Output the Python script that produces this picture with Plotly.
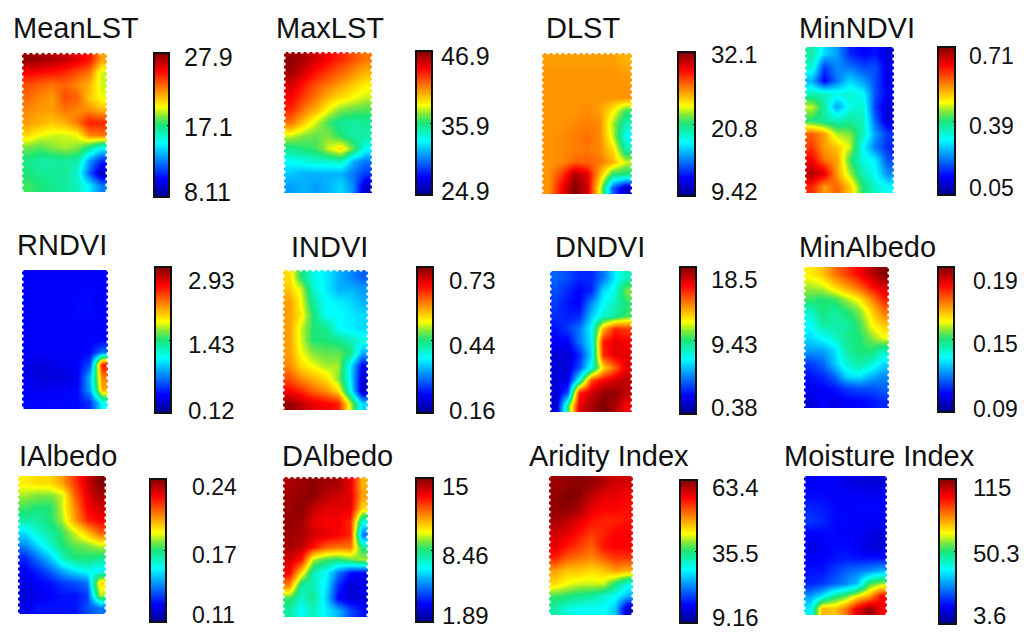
import plotly.graph_objects as go

W, H = 1024, 641

# jet positions (0-100), rows top to bottom
mean_lst = [
    [98, 97, 95, 93, 90, 86, 72], [88, 87, 86, 84, 80, 76, 60], [80, 78, 76, 78, 74, 70, 60],
    [77, 74, 72, 80, 78, 68, 62], [74, 72, 72, 76, 74, 74, 70], [72, 70, 68, 70, 76, 85, 84],
    [66, 62, 60, 60, 62, 74, 76], [55, 53, 56, 58, 56, 48, 38], [48, 46, 46, 47, 46, 28, 16],
    [50, 47, 47, 47, 42, 22, 5], [52, 50, 48, 46, 44, 36, 25]]
max_lst = [
    [98, 96, 92, 88, 84, 80, 76], [97, 92, 86, 82, 78, 74, 70], [92, 86, 80, 76, 72, 68, 64],
    [88, 82, 76, 70, 66, 63, 60], [84, 76, 70, 62, 56, 54, 53], [76, 68, 60, 52, 47, 46, 47],
    [60, 56, 54, 56, 50, 46, 46], [48, 50, 52, 60, 66, 54, 38], [38, 40, 42, 42, 44, 30, 24],
    [32, 30, 30, 30, 30, 24, 18], [28, 30, 28, 30, 34, 26, 6]]
dlst = [
    [72, 72, 72, 72, 72, 72, 70], [73, 73, 73, 73, 73, 73, 72], [73, 73, 73, 73, 73, 73, 73],
    [73, 73, 73, 73, 73, 73, 73], [73, 73, 73, 74, 72, 64, 52], [73, 73, 74, 75, 74, 58, 44],
    [73, 74, 75, 77, 74, 60, 38], [73, 74, 75, 76, 74, 66, 46], [73, 74, 78, 78, 76, 70, 60],
    [73, 82, 96, 90, 70, 50, 48], [73, 88, 100, 92, 62, 22, 6]]
min_ndvi = [
    [46, 34, 28, 16, 12, 14, 8], [42, 18, 26, 24, 20, 20, 10], [30, 12, 24, 34, 28, 20, 10],
    [44, 44, 40, 42, 38, 20, 12], [60, 46, 28, 40, 42, 18, 8], [50, 46, 44, 46, 44, 22, 8],
    [78, 72, 58, 56, 44, 28, 18], [82, 72, 68, 60, 38, 24, 16], [88, 76, 72, 52, 40, 36, 20],
    [95, 90, 72, 58, 44, 38, 26], [84, 72, 78, 68, 50, 42, 38]]
rndvi = [
    [12, 12, 12, 12, 12, 12, 12], [12, 12, 12, 12, 12, 13, 12], [12, 12, 12, 12, 13, 13, 12],
    [12, 12, 12, 12, 13, 13, 12], [12, 12, 12, 12, 12, 12, 12], [12, 12, 12, 12, 12, 12, 12],
    [12, 12, 12, 12, 12, 13, 24], [10, 8, 10, 11, 12, 20, 86], [11, 8, 9, 9, 11, 30, 75],
    [12, 11, 12, 12, 13, 28, 70], [13, 13, 13, 13, 13, 17, 38]]
indvi = [
    [66, 50, 40, 36, 30, 26, 22], [68, 60, 42, 36, 30, 30, 28], [72, 62, 46, 38, 36, 34, 30],
    [72, 64, 50, 38, 38, 36, 34], [72, 60, 50, 48, 38, 36, 34], [72, 60, 50, 50, 48, 44, 40],
    [72, 62, 56, 54, 54, 50, 30], [74, 66, 62, 58, 58, 36, 12], [80, 74, 70, 66, 56, 36, 8],
    [88, 84, 78, 74, 66, 40, 6], [98, 94, 90, 88, 85, 60, 34]]
dndvi = [
    [22, 20, 16, 16, 24, 36, 44], [20, 16, 12, 16, 34, 40, 56], [18, 14, 12, 26, 38, 44, 50],
    [17, 15, 16, 32, 42, 46, 52], [14, 18, 24, 38, 70, 84, 82], [12, 12, 24, 36, 85, 90, 88],
    [8, 8, 16, 34, 84, 90, 90], [8, 8, 20, 40, 66, 78, 90], [8, 10, 40, 80, 88, 92, 94],
    [8, 20, 84, 92, 98, 98, 94], [8, 50, 90, 96, 100, 96, 88]]
min_albedo = [
    [64, 68, 76, 82, 88, 94, 100], [58, 60, 66, 72, 78, 86, 92], [52, 50, 52, 58, 64, 74, 84],
    [42, 50, 46, 50, 56, 66, 76], [38, 46, 46, 46, 52, 62, 68], [34, 38, 42, 48, 50, 56, 62],
    [28, 28, 34, 46, 50, 50, 44], [18, 22, 32, 42, 46, 42, 34], [14, 16, 22, 34, 36, 30, 26],
    [12, 12, 14, 18, 20, 20, 22], [8, 12, 10, 12, 12, 14, 16]]
ialbedo = [
    [64, 66, 66, 72, 82, 92, 100], [58, 56, 56, 60, 78, 90, 96], [52, 50, 50, 60, 74, 88, 92],
    [46, 46, 50, 58, 72, 84, 88], [34, 42, 46, 52, 60, 68, 78], [26, 34, 42, 50, 54, 56, 60],
    [16, 24, 32, 44, 50, 50, 48], [12, 16, 22, 30, 36, 40, 36], [10, 12, 14, 18, 20, 24, 66],
    [8, 10, 12, 14, 14, 18, 58], [10, 14, 14, 14, 14, 20, 24]]
dalbedo = [
    [96, 97, 99, 97, 96, 90, 70], [97, 98, 99, 94, 92, 90, 72], [97, 99, 93, 90, 90, 90, 66],
    [98, 97, 90, 88, 88, 84, 40], [97, 96, 92, 90, 88, 84, 24], [96, 94, 86, 78, 76, 76, 48],
    [92, 86, 58, 52, 50, 54, 58], [88, 66, 44, 38, 24, 14, 12], [74, 46, 44, 36, 16, 8, 10],
    [52, 42, 48, 34, 12, 8, 8], [46, 38, 44, 36, 30, 20, 14]]
aridity = [
    [97, 98, 99, 98, 95, 92, 92], [98, 100, 99, 94, 90, 90, 88], [98, 99, 96, 90, 88, 88, 86],
    [96, 94, 90, 86, 84, 84, 86], [92, 90, 86, 82, 84, 88, 88], [90, 86, 82, 78, 86, 88, 88],
    [84, 78, 76, 74, 78, 82, 82], [72, 68, 68, 66, 68, 72, 70], [66, 62, 60, 60, 60, 50, 40],
    [52, 50, 48, 46, 42, 38, 30], [46, 40, 38, 38, 38, 32, 6]]
moisture = [
    [12, 12, 12, 10, 9, 8, 8], [13, 13, 12, 12, 12, 11, 11], [16, 15, 13, 12, 13, 13, 13],
    [18, 16, 13, 13, 12, 12, 11], [12, 13, 13, 12, 12, 10, 9], [10, 11, 13, 13, 12, 8, 8],
    [12, 12, 14, 15, 14, 14, 14], [14, 14, 18, 22, 24, 26, 30], [16, 18, 22, 26, 32, 52, 58],
    [28, 36, 48, 54, 64, 72, 88], [36, 70, 68, 76, 90, 98, 88]]

titles = ["MeanLST", "MaxLST", "DLST", "MinNDVI", "RNDVI", "INDVI", "DNDVI", "MinAlbedo",
          "IAlbedo", "DAlbedo", "Aridity Index", "Moisture Index"]
grids = [mean_lst, max_lst, dlst, min_ndvi, rndvi, indvi, dndvi, min_albedo,
         ialbedo, dalbedo, aridity, moisture]
tick_labels = [
    ["27.9", "17.1", "8.11"], ["46.9", "35.9", "24.9"], ["32.1", "20.8", "9.42"], ["0.71", "0.39", "0.05"],
    ["2.93", "1.43", "0.12"], ["0.73", "0.44", "0.16"], ["18.5", "9.43", "0.38"], ["0.19", "0.15", "0.09"],
    ["0.24", "0.17", "0.11"], ["15", "8.46", "1.89"], ["63.4", "35.5", "9.16"], ["115", "50.3", "3.6"]]

# pixel layout of each panel: map box, bar box, title anchor, tick label x and y's
map_boxes = [(22, 107, 53, 192), (284, 372, 52, 193), (542, 632, 53, 194), (805, 894, 47, 193),
             (22, 108, 270, 409), (283, 368, 270, 410), (550, 632, 271, 412), (804, 889, 267, 408),
             (18, 106, 476, 614), (283, 368, 477, 617), (549, 633, 476, 615), (804, 887, 476, 615)]
bar_boxes = [(154, 169, 53, 197), (416, 432, 51, 195), (678, 695, 52, 196), (938, 955, 47, 195),
             (155, 171, 267, 413), (417, 433, 267, 413), (680, 696, 267, 414), (938, 954, 267, 412),
             (150, 166, 479, 622), (416, 433, 478, 622), (680, 697, 480, 623), (939, 956, 479, 624)]
title_pos = [(11, 28), (274, 28), (544, 28), (797, 28), (15, 245), (289, 247), (553, 247), (797, 247),
             (17, 456), (280, 456), (527, 456), (782, 456)]
label_x = [182, 439, 709, 967, 186, 447, 709, 971, 190, 440, 710, 971]
label_y = [(57, 127, 192), (56, 126, 191), (55, 129, 191), (56, 126, 188),
           (280, 344, 410), (280, 345, 410), (279, 344, 407), (281, 344, 409),
           (487, 555, 615), (486, 555, 615), (487, 553, 617), (487, 553, 615)]
label_size = [25, 25, 24, 23, 24, 24, 24, 23, 23, 24, 24, 24]
scalloped_top = ["MeanLST", "MaxLST", "DLST", "INDVI", "DAlbedo"]

JET = [[0, "#00008f"], [0.125, "#0000ff"], [0.375, "#00ffff"], [0.5, "#19e678"], [0.56, "#7ee83c"],
       [0.625, "#ffff00"], [0.875, "#ff0000"], [1, "#800000"]]
FONT = "Liberation Sans"
NOTCH = 6  # pixel spacing of the notches along the map edges


def edge_notches(box, top):
    """White dots in axis units that bite the stepped edge out of a map"""
    x0, x1, y0, y1 = box
    xs, ys = [], []
    for k in range((y1 - y0) // NOTCH + 1):
        yv = -0.5 + 11 * k * NOTCH / (y1 - y0)
        xs += [-0.5, 6.5]
        ys += [yv, yv]
    if top:
        for k in range((x1 - x0) // NOTCH + 1):
            xs.append(-0.5 + 7 * k * NOTCH / (x1 - x0))
            ys.append(-0.5)
    return xs, ys


fig = go.Figure()
annotations = []
layout_axes = {}

for i, (name, grid) in enumerate(zip(titles, grids)):
    n = i + 1
    x0, x1, y0, y1 = map_boxes[i]
    bx0, bx1, by0, by1 = bar_boxes[i]
    fig.add_trace(go.Heatmap(
        z=grid, zmin=0, zmax=100, zsmooth="best", colorscale=JET,
        xaxis=f"x{n}", yaxis=f"y{n}", hoverinfo="skip",
        colorbar=dict(
            x=bx0 / W, xref="paper", xanchor="left", y=1 - by0 / H, yref="paper", yanchor="top",
            thickness=bx1 - bx0, thicknessmode="pixels", len=by1 - by0, lenmode="pixels",
            xpad=0, ypad=0, outlinecolor="#111111", outlinewidth=2, borderwidth=0,
            tickvals=[50], ticktext=[""], ticks="inside", ticklen=3, tickcolor="#000000",
        ),
    ))
    nx, ny = edge_notches(map_boxes[i], name in scalloped_top)
    fig.add_trace(go.Scatter(
        x=nx, y=ny, mode="markers", xaxis=f"x{n}", yaxis=f"y{n}", hoverinfo="skip",
        marker=dict(color="white", size=3.5), cliponaxis=False, showlegend=False,
    ))
    layout_axes[f"xaxis{n}"] = dict(domain=[x0 / W, x1 / W], visible=False, anchor=f"y{n}",
                                    range=[-0.5, 6.5])
    layout_axes[f"yaxis{n}"] = dict(domain=[1 - y1 / H, 1 - y0 / H], visible=False,
                                    anchor=f"x{n}", range=[10.5, -0.5])
    annotations.append(dict(text=name, x=title_pos[i][0] / W, y=1 - title_pos[i][1] / H,
                            xref="paper", yref="paper", xanchor="left", yanchor="middle",
                            showarrow=False, font=dict(family=FONT, size=29, color="#111111")))
    for label, ly in zip(tick_labels[i], label_y[i]):
        annotations.append(dict(text=label, x=label_x[i] / W, y=1 - ly / H,
                                xref="paper", yref="paper", xanchor="left", yanchor="middle",
                                showarrow=False,
                                font=dict(family=FONT, size=label_size[i], color="#111111")))

fig.update_layout(
    width=W, height=H, margin=dict(l=0, r=0, t=0, b=0),
    paper_bgcolor="white", plot_bgcolor="white", showlegend=False,
    annotations=annotations, **layout_axes,
)

fig.write_html("out.html", config=dict(displayModeBar=False),
               post_script="document.body.style.margin='0';")
